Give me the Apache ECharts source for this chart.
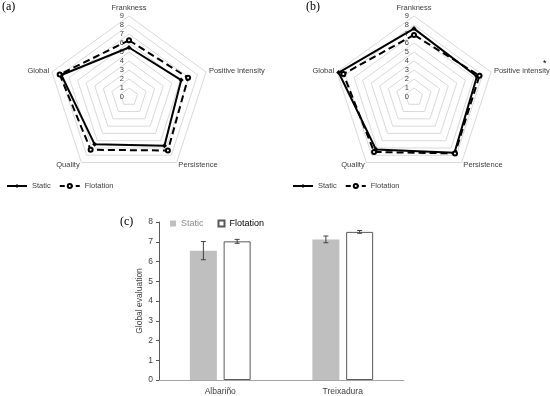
<!DOCTYPE html>
<html>
<head>
<meta charset="utf-8">
<script src="https://cdn.jsdelivr.net/npm/echarts@6/dist/echarts.min.js"></script>
<style>html,body{margin:0;padding:0;background:#fff}#c{width:550px;height:396px}</style>
</head>
<body>
<div id="c"></div>
<script>
// Radar indicators (listed counter-clockwise from the top, as ECharts lays them out)
const indicators = ['Frankness', 'Global', 'Quality', 'Persistence', 'Positive intensity'];
const radarMax = 9;
const staticA = [5.5, 7.9, 6.5, 6.7, 6.1];
const flotationA = [6.3, 8.1, 7.25, 7.35, 6.9];
const staticB = [7.6, 8.8, 7.2, 7.65, 7.35];
const flotationB = [6.9, 8.25, 7.55, 7.75, 7.65];

// Bar chart (c)
const wines = ['Albariño', 'Treixadura'];
const staticMean = [6.55, 7.12];
const staticErr = [0.46, 0.17];
const flotationMean = [7.02, 7.5];
const flotationErr = [0.1, 0.07];
const barTicks = {min: 0, max: 8, interval: 1};

const FONT = 'Liberation Sans, Arial, sans-serif';
const SERIF = 'Liberation Serif, Times New Roman, serif';
const BAR_W = 27;
const BAR_GAP = 0.25;
const OFFSET = (BAR_W + BAR_W * BAR_GAP) / 2;

function makeRadar(cx) {
  return {
    center: [cx, 97],
    radius: 81,
    startAngle: 90,
    shape: 'polygon',
    splitNumber: 9,
    nameGap: 3,
    axisName: {color: '#404040', fontSize: 7.5, fontFamily: FONT},
    axisLine: {show: false},
    axisTick: {show: false},
    axisLabel: {show: false},
    splitLine: {lineStyle: {color: '#d9d9d9', width: 1}},
    splitArea: {show: false},
    indicator: indicators.map((n, i) => {
      const o = {name: n, min: 0, max: radarMax};
      if (i === 0) o.axisLabel = {show: true, color: '#404040', fontSize: 7.5, fontFamily: FONT, margin: 5};
      return o;
    })
  };
}

function radarSeries(idx, sVals, fVals) {
  return {
    type: 'radar',
    name: 'radar' + idx,
    radarIndex: idx,
    silent: true,
    data: [
      {value: sVals, name: 'Static', symbol: 'diamond', symbolSize: 5,
       lineStyle: {color: '#000', width: 2}, itemStyle: {color: '#000'}},
      {value: fVals, name: 'Flotation', symbol: 'emptyCircle', symbolSize: 4,
       lineStyle: {color: '#000', width: 2, type: [7, 4]}, itemStyle: {color: '#000', borderWidth: 1}}
    ]
  };
}

function errRender(sign) {
  return function (params, api) {
    const c = api.value(0);
    const x = api.coord([c, 0])[0] + sign * OFFSET;
    const lo = api.coord([c, api.value(1)])[1];
    const hi = api.coord([c, api.value(2)])[1];
    const st = {stroke: '#404040', lineWidth: 1};
    return {type: 'group', children: [
      {type: 'line', shape: {x1: x, y1: lo, x2: x, y2: hi}, style: st},
      {type: 'line', shape: {x1: x - 2.5, y1: lo, x2: x + 2.5, y2: lo}, style: st},
      {type: 'line', shape: {x1: x - 2.5, y1: hi, x2: x + 2.5, y2: hi}, style: st}
    ]};
  };
}

const chart = echarts.init(document.getElementById('c'), null, {renderer: 'canvas'});
const legendText = {fontSize: 7.5, color: '#404040', fontFamily: FONT};
chart.setOption({
  animation: false,
  backgroundColor: '#fff',
  title: [
    {text: '(a)', left: 2, top: 1, padding: 0, textStyle: {fontFamily: SERIF, fontSize: 12, fontWeight: 'normal', color: '#000'}},
    {text: '(b)', left: 306, top: 1, padding: 0, textStyle: {fontFamily: SERIF, fontSize: 12, fontWeight: 'normal', color: '#000'}},
    {text: '(c)', left: 120, top: 216, padding: 0, textStyle: {fontFamily: SERIF, fontSize: 12, fontWeight: 'normal', color: '#000'}}
  ],
  graphic: [
    {type: 'text', left: 543, top: 59, style: {text: '*', fill: '#000', font: '9px ' + FONT}}
  ],
  radar: [makeRadar(129), makeRadar(414)],
  legend: [
    {data: ['Static', 'Flotation'], left: 6, top: 182, padding: 0, itemWidth: 20, itemHeight: 5, itemGap: 8,
     textStyle: legendText, selectedMode: false},
    {data: ['Static', 'Flotation'], left: 292, top: 182, padding: 0, itemWidth: 20, itemHeight: 5, itemGap: 8,
     textStyle: legendText, selectedMode: false},
    {data: [{name: 'Static bar', textStyle: {color: '#8c8c8c'}}, {name: 'Flotation bar', textStyle: {color: '#000'}}],
     formatter: n => n.replace(' bar', ''),
     left: 170, top: 219, padding: 0, itemWidth: 6, itemHeight: 6, itemGap: 14, icon: 'rect',
     textStyle: {fontSize: 9, fontFamily: FONT}, selectedMode: false}
  ],
  grid: [
    {left: 159, right: 146, top: 222, bottom: 16},
    {left: 0, top: 0, width: 1, height: 1, show: false}
  ],
  xAxis: [
    {type: 'category', gridIndex: 0, data: wines,
     axisLine: {lineStyle: {color: '#a6a6a6', width: 1}},
     axisTick: {show: false},
     axisLabel: {color: '#404040', fontSize: 8.5, fontFamily: FONT, margin: 7}},
    {type: 'category', gridIndex: 1, show: false, data: []}
  ],
  yAxis: [
    {type: 'value', gridIndex: 0, min: barTicks.min, max: barTicks.max, interval: barTicks.interval,
     name: 'Global evaluation', nameLocation: 'middle', nameGap: 13,
     nameTextStyle: {color: '#404040', fontSize: 8.5, fontFamily: FONT},
     axisLine: {show: true, lineStyle: {color: '#595959', width: 1}},
     axisTick: {show: true, length: 3, lineStyle: {color: '#595959'}},
     splitLine: {show: false},
     axisLabel: {color: '#404040', fontSize: 8.5, fontFamily: FONT, margin: 6}},
    {type: 'value', gridIndex: 1, show: false}
  ],
  series: [
    // legend-only line entries for the radar legends (no data)
    {type: 'line', name: 'Static', xAxisIndex: 1, yAxisIndex: 1, data: [], symbol: 'diamond',
     lineStyle: {color: '#000', width: 2}, itemStyle: {color: '#000'}},
    {type: 'line', name: 'Flotation', xAxisIndex: 1, yAxisIndex: 1, data: [], symbol: 'emptyCircle',
     lineStyle: {color: '#000', width: 2, type: [5, 3]}, itemStyle: {color: '#000'}},
    radarSeries(0, staticA, flotationA),
    radarSeries(1, staticB, flotationB),
    {type: 'bar', name: 'Static bar', xAxisIndex: 0, yAxisIndex: 0, data: staticMean,
     barWidth: BAR_W, barGap: (BAR_GAP * 100) + '%', itemStyle: {color: '#bfbfbf'}, silent: true},
    {type: 'bar', name: 'Flotation bar', xAxisIndex: 0, yAxisIndex: 0, data: flotationMean,
     barWidth: BAR_W, itemStyle: {color: '#fff', borderColor: '#595959', borderWidth: 1}, silent: true},
    {type: 'custom', name: 'errS', xAxisIndex: 0, yAxisIndex: 0, renderItem: errRender(-1), z: 5,
     encode: {x: 0, y: [1, 2]},
     data: wines.map((w, i) => [i, staticMean[i] - staticErr[i], staticMean[i] + staticErr[i]])},
    {type: 'custom', name: 'errF', xAxisIndex: 0, yAxisIndex: 0, renderItem: errRender(1), z: 5,
     encode: {x: 0, y: [1, 2]},
     data: wines.map((w, i) => [i, flotationMean[i] - flotationErr[i], flotationMean[i] + flotationErr[i]])}
  ]
});
</script>
</body>
</html>
